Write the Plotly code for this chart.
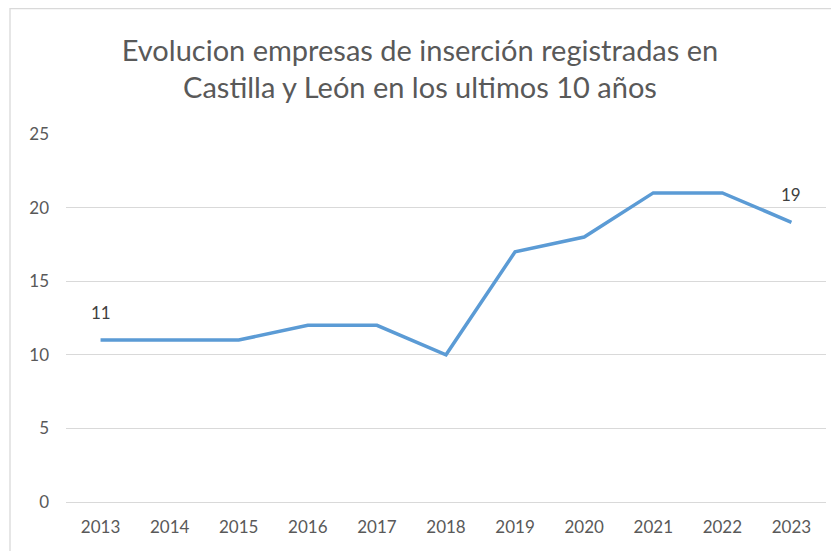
import plotly.graph_objects as go

years = ["2013", "2014", "2015", "2016", "2017", "2018", "2019", "2020", "2021", "2022", "2023"]
values = [11, 11, 11, 12, 12, 10, 17, 18, 21, 21, 19]
title_text = "Evolucion empresas de inserción registradas en<br>Castilla y León en los ultimos 10 años"
label_idx = [0, len(values) - 1]

FONT = "Lato"
GREY = "#595959"
W, H = 831, 543
L, T, R, B = 58, 126, 13, 49
PW, PH = W - L - R, H - T - B

fig = go.Figure()
fig.add_trace(go.Scatter(
    x=years, y=values, mode="lines",
    line=dict(color="#5b9bd5", width=3.5),
    hoverinfo="skip", showlegend=False,
))

annotations = [dict(x=i, y=values[i], xref="x", yref="y", text=str(values[i]), showarrow=False,
                    yshift=28, font=dict(family=FONT, size=17, color="#404040"))
               for i in label_idx]

fig.update_layout(
    width=W, height=H,
    margin=dict(l=L, r=R, t=T, b=B, autoexpand=False),
    paper_bgcolor="white", plot_bgcolor="white",
    title=dict(text=title_text, x=412 / W, xanchor="center", xref="container",
               y=0.903, yanchor="top", yref="container",
               font=dict(family=FONT, size=29, color=GREY)),
    font=dict(family=FONT, size=17, color=GREY),
    annotations=annotations,
    xaxis=dict(type="category", range=[-0.5, len(years) - 0.5], showgrid=False,
               showline=False, zeroline=False,
               ticks="", automargin=False, ticklabelstandoff=13,
               tickfont=dict(family=FONT, size=17, color=GREY)),
    yaxis=dict(range=[0, 25], dtick=5, showgrid=True, gridcolor="#d9d9d9", gridwidth=1.3,
               zeroline=True, zerolinecolor="#d9d9d9", zerolinewidth=1.3,
               showline=False, ticks="", automargin=False, ticklabelstandoff=16,
               tickfont=dict(family=FONT, size=17, color=GREY)),
    shapes=[dict(type="rect", xref="paper", yref="paper",
                 x0=(2 - L) / PW, x1=1.2, y0=-0.3, y1=(PH + T - 0.5) / PH,
                 line=dict(color="#d9d9d9", width=1.3), layer="below")],
)

fig.write_html("out.html")
